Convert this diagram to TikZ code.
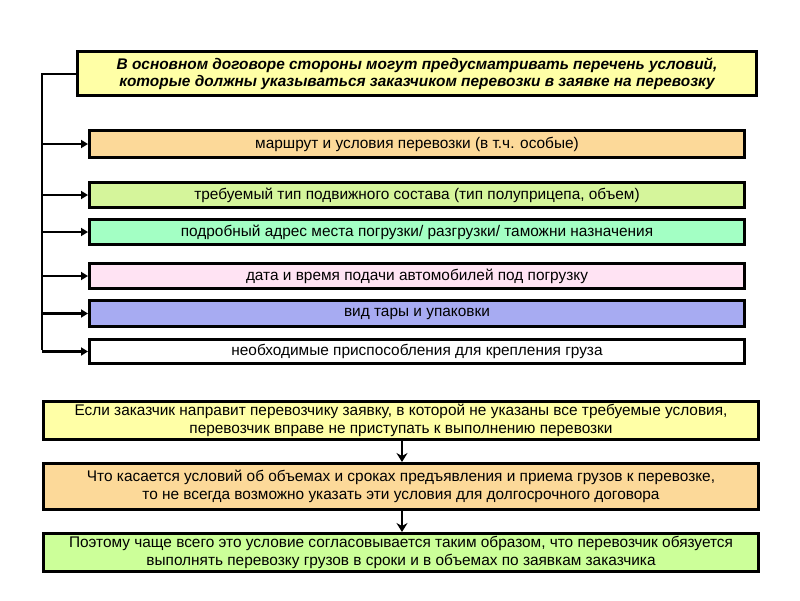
\documentclass[tikz,border=0pt]{standalone}
\usepackage{fontspec}
\setmainfont{Liberation Sans}
\usetikzlibrary{arrows.meta}
\definecolor{cyel}{HTML}{FFFFA6}
\definecolor{corg}{HTML}{FCD999}
\definecolor{cgrn}{HTML}{D5F59B}
\definecolor{cmint}{HTML}{A3FFC4}
\definecolor{cpink}{HTML}{FFE3F3}
\definecolor{clav}{HTML}{A7ABF2}
\definecolor{cgrn2}{HTML}{CCFF99}
\tikzset{
  box/.style={draw=black, line width=3pt, inner sep=0pt, anchor=north west, align=center, font=\fontsize{15.4}{18}\selectfont},
  conn/.style={line width=2.6pt},
  arr/.style={line width=2.6pt, -{Triangle[length=7pt,width=8pt]}},
  varr/.style={line width=2.6pt, -{Stealth[length=9pt,width=11pt,inset=3pt]}},
}
\begin{document}
\begin{tikzpicture}[x=1pt,y=-1pt]
\useasboundingbox (0,0) rectangle (800,600);
\node[box, fill=cyel, minimum width=679pt, minimum height=44pt, font=\fontsize{15.4}{17}\selectfont\bfseries\itshape] (top) at (76,50) {В основном договоре стороны могут предусматривать перечень условий,\\которые должны указываться заказчиком перевозки в заявке на перевозку};
\node[box, fill=corg, minimum width=655pt, minimum height=27pt] (b1) at (88,129) {маршрут и условия перевозки (в т.ч. особые)};
\node[box, fill=cgrn, minimum width=655pt, minimum height=25pt] (b2) at (88,181) {требуемый тип подвижного состава (тип полуприцепа, объем)};
\node[box, fill=cmint, minimum width=655pt, minimum height=25pt] (b3) at (88,218) {подробный адрес места погрузки/ разгрузки/ таможни назначения};
\node[box, fill=cpink, minimum width=655pt, minimum height=25pt] (b4) at (88,262) {дата и время подачи автомобилей под погрузку};
\node[box, fill=clav, minimum width=655pt, minimum height=26pt] (b5) at (88,299) {вид тары и упаковки};
\node[box, fill=white, minimum width=655pt, minimum height=24pt] (b6) at (88,338) {необходимые приспособления для крепления груза};
\coordinate (t0) at (42,74);
\coordinate (bot) at (42,350);
\draw[conn] (top.west |- t0) -- (t0) -- (bot);
\foreach \b in {b1,b2,b3,b4,b5,b6}{
  \draw[arr] (t0 |- \b.west) -- (\b.west);
}
\node[box, fill=cyel, minimum width=715pt, minimum height=38pt] (c1) at (42,400) {Если заказчик направит перевозчику заявку, в которой не указаны все требуемые условия,\\перевозчик вправе не приступать к выполнению перевозки};
\node[box, fill=corg, minimum width=715pt, minimum height=46pt] (c2) at (42,462) {Что касается условий об объемах и сроках предъявления и приема грузов к перевозке,\\то не всегда возможно указать эти условия для долгосрочного договора};
\node[box, fill=cgrn2, minimum width=715pt, minimum height=38pt] (c3) at (42,532) {Поэтому чаще всего это условие согласовывается таким образом, что перевозчик обязуется\\выполнять перевозку грузов в сроки и в объемах по заявкам заказчика};
\draw[varr] ([xshift=1pt]c1.south) -- ([xshift=1pt]c2.north);
\draw[varr] ([xshift=1pt]c2.south) -- ([xshift=1pt]c3.north);
\end{tikzpicture}
\end{document}
